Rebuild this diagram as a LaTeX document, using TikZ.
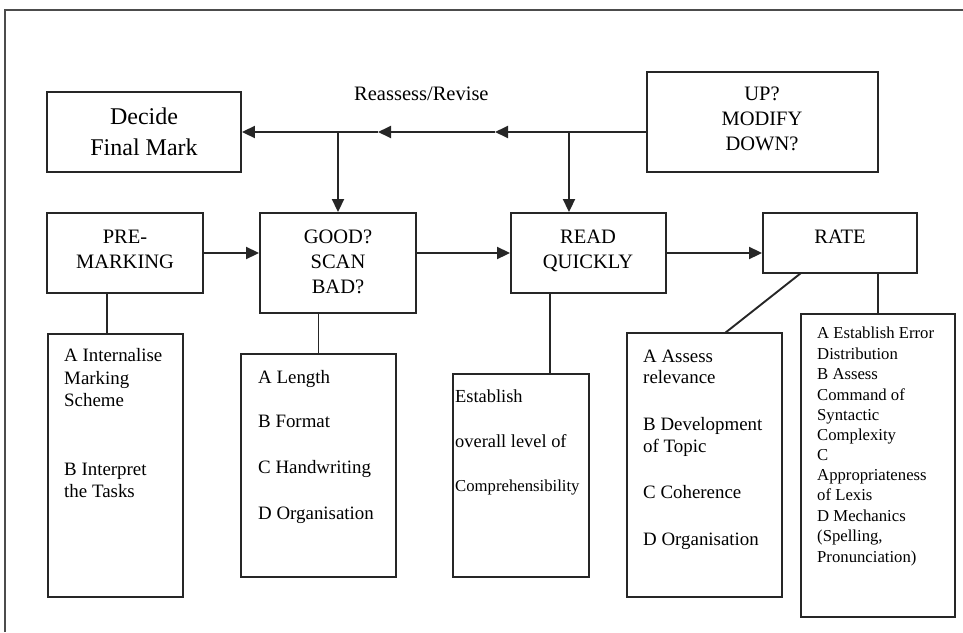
\documentclass[tikz,border=0pt]{standalone}
\usepackage{fontspec}
\setmainfont{Liberation Serif}
\usetikzlibrary{arrows.meta}
\begin{document}
\begin{tikzpicture}[x=1pt,y=-1pt,
  box/.style={draw=black!85,line width=1.9pt,rectangle,inner sep=0pt},
  link/.style={draw=black!85,line width=1.9pt},
  arr/.style={link,-{Triangle[length=13pt,width=12pt]}},
  title/.style={anchor=base,inner sep=0pt,font=\fontsize{20.5}{24}\selectfont},
  big/.style={anchor=base,inner sep=0pt,font=\fontsize{24}{30}\selectfont},
  body/.style={anchor=base west,inner sep=0pt,font=\fontsize{18.9}{22}\selectfont},
  mid/.style={anchor=base west,inner sep=0pt,font=\fontsize{18.4}{22}\selectfont},
  small/.style={anchor=base west,inner sep=0pt,font=\fontsize{16.7}{20}\selectfont}]
\useasboundingbox (0,0) rectangle (963,632);

% outer frame
\draw[line width=1.6pt,black!70] (5,632) -- (5,10) -- (963,10);

% boxes
\node[box,minimum width=194pt,minimum height=80pt]  (dec)  at (144,132)   {};
\node[box,minimum width=231pt,minimum height=100pt] (mod)  at (762.5,122) {};
\node[box,minimum width=156pt,minimum height=80pt]  (pre)  at (125,253)   {};
\node[box,minimum width=156pt,minimum height=100pt] (good) at (338,263)   {};
\node[box,minimum width=155pt,minimum height=80pt]  (read) at (588.5,253) {};
\node[box,minimum width=154pt,minimum height=60pt]  (rate) at (840,243)   {};
\node[box,minimum width=135pt,minimum height=263pt] (abox) at (115.5,465.5) {};
\node[box,minimum width=155pt,minimum height=223pt] (len)  at (318.5,465.5) {};
\node[box,minimum width=136pt,minimum height=203pt] (est)  at (521,475.5)   {};
\node[box,minimum width=155pt,minimum height=264pt] (ass)  at (704.5,465)   {};
\node[box,minimum width=154pt,minimum height=303pt] (err)  at (878,465.5)   {};

% box titles
\node[big] (t1) at (144,124) {Decide};
\node[big] (t2) at (144,155) {Final Mark};
\node[title] (t3) at (762,100) {UP?};
\node[title] (t4) at (762,125) {MODIFY};
\node[title] (t5) at (762,150) {DOWN?};
\node[title] (t6) at (125,243) {PRE-};
\node[title] (t7) at (125,268) {MARKING};
\node[title] (t8) at (338,243) {GOOD?};
\node[title] (t9) at (338,268) {SCAN};
\node[title] (t10) at (338,293) {BAD?};
\node[title] (t11) at (588,243) {READ};
\node[title] (t12) at (588,268) {QUICKLY};
\node[title] (t13) at (840,243) {RATE};
\node[title,anchor=base west] (rev) at (354,100) {Reassess/Revise};

% detail lists
\foreach \t/\y [count=\i] in {A Internalise/361,Marking/384,Scheme/406,B Interpret/475,the Tasks/497}
  \node[body] (pa\i) at (64,\y) {\t};
\foreach \t/\y [count=\i] in {A Length/383,B Format/427,C Handwriting/473,D Organisation/519}
  \node[body] (sa\i) at (258,\y) {\t};
\node[mid] (ea1) at (455,402) {Establish};
\node[mid] (ea2) at (455,447) {overall level of};
\node[small] (ea3) at (455,491) {Comprehensibility};
\foreach \t/\y [count=\i] in {A Assess/362,relevance/383,B Development/430,of Topic/452,C Coherence/498,D Organisation/545}
  \node[body] (ra\i) at (643,\y) {\t};
\foreach \t/\y [count=\i] in {A Establish Error/338,Distribution/359,B Assess/379,Command of/400,Syntactic/420,Complexity/440,C/460,Appropriateness/480,of Lexis/500,D Mechanics/521,{(Spelling,}/541,Pronunciation)/562}
  \node[small] (rb\i) at (817,\y) {\t};

% reassess / revise path
\coordinate (back1) at (495,132);
\coordinate (back2) at (378,132);
\coordinate (drop2) at (569,132);
\draw[arr] (dec.east -| mod.west) -- (back1);
\draw[arr] (back1) -- (back2);
\draw[arr] (back2) -- (dec.east);
\draw[arr] (dec.east -| good.north) -- (good.north);
\draw[arr] (drop2) -- (drop2 |- read.north);

% main sequence
\draw[arr] (pre.east) -- (pre.east -| good.west);
\draw[arr] (pre.east -| good.east) -- (pre.east -| read.west);
\draw[arr] (read.east) -- (read.east -| rate.west);

% links to detail boxes
\coordinate (preX) at (107,0);
\coordinate (readX) at (550,0);
\coordinate (rateA) at (801,273);
\coordinate (assA) at (725,333);
\draw[link] (pre.south -| preX) -- (abox.north -| preX);
\draw[link] (good.south -| len.north) -- (len.north);
\draw[link] (read.south -| readX) -- (est.north -| readX);
\draw[link] (rateA) -- (assA);
\draw[link] (rate.south -| err.north) -- (err.north);
\end{tikzpicture}
\end{document}
